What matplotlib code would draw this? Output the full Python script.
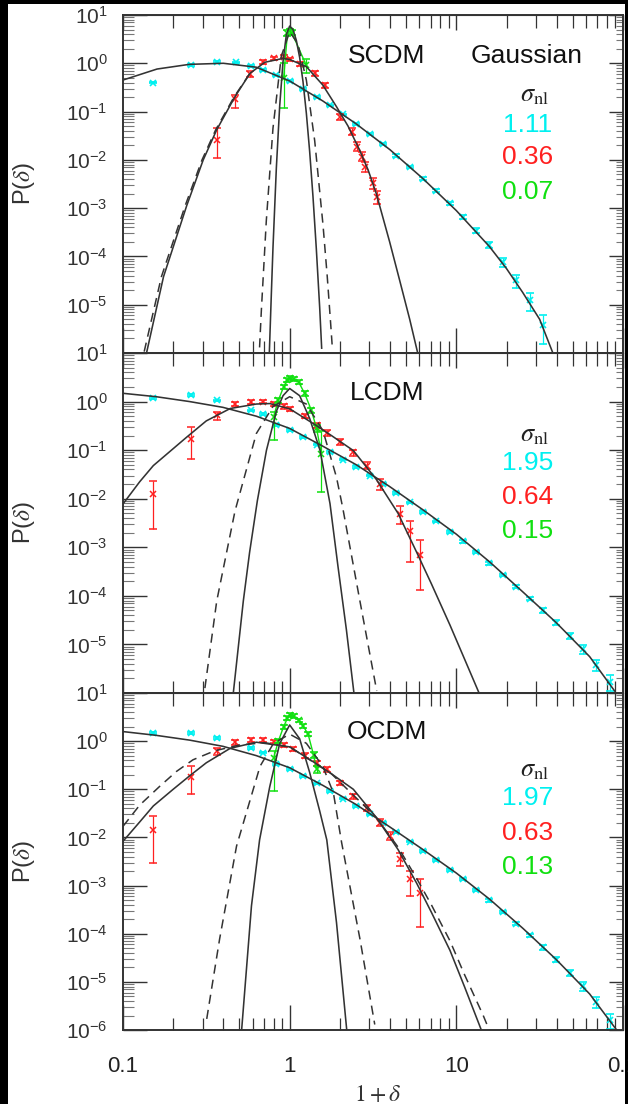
import matplotlib
matplotlib.use('Agg')
import matplotlib.pyplot as plt
from matplotlib.ticker import LogLocator, NullFormatter, FixedLocator, FixedFormatter
from matplotlib.patches import Rectangle

plt.rcParams['font.family'] = ['Liberation Sans', 'DejaVu Sans']
plt.rcParams['mathtext.fontset'] = 'stix'

CYAN = '#00f0f0'
RED = '#ff2020'
GREEN = '#10e010'
INK = '#333333'

X_TICKS = [0.1, 1, 10, 100]
X_TICKLABELS = ['0.1', '1', '10', '0.1']
Y_TICKS = [1e-6, 1e-5, 1e-4, 1e-3, 1e-2, 1e-1, 1e0, 1e1]
Y_TICKLABELS = [r'$\mathregular{10^{-6}}$', r'$\mathregular{10^{-5}}$', r'$\mathregular{10^{-4}}$',
                r'$\mathregular{10^{-3}}$', r'$\mathregular{10^{-2}}$', r'$\mathregular{10^{-1}}$',
                r'$\mathregular{10^{0}}$', r'$\mathregular{10^{1}}$']

MODELS = ['SCDM', 'LCDM', 'OCDM']
SIGMA_NL = [['1.11', '0.36', '0.07'], ['1.95', '0.64', '0.15'], ['1.97', '0.63', '0.13']]

# ---------------- SCDM ----------------
C1_CURVE_X = [0.1, 0.16, 0.25, 0.4, 0.63, 1.0, 1.58, 2.5, 4.0, 6.3, 10, 15.8, 20, 25, 31.6, 40]
C1_CURVE_Y = [0.45, 0.76, 0.95, 1.0, 0.83, 0.43, 0.166, 0.056, 0.0162, 4.1e-3, 8.9e-4, 1.6e-4, 5.6e-5,
              1.8e-5, 5.0e-6, 6.3e-7]
C1_X = [0.152, 0.256, 0.365, 0.477, 0.59, 0.69, 0.83, 1.0, 1.2, 1.45, 1.74, 2.09, 2.51, 3.02, 3.63,
        4.37, 5.25, 6.31, 7.59, 9.12, 10.96, 13.2, 15.8, 19.1, 22.9, 27.5, 33.1]
C1_Y = [0.40, 0.92, 1.08, 1.04, 0.88, 0.73, 0.56, 0.43, 0.29, 0.20, 0.134, 0.087, 0.056, 0.034, 0.021,
        0.0123, 7.1e-3, 4.1e-3, 2.3e-3, 1.25e-3, 6.6e-4, 3.4e-4, 1.75e-4, 7.6e-5, 3.2e-5, 1.25e-5, 3.8e-6]
C1_FERR = [0.04, 0.04, 0.04, 0.04, 0.04, 0.04, 0.04, 0.04, 0.04, 0.04, 0.04, 0.04, 0.04, 0.04, 0.04,
           0.05, 0.05, 0.06, 0.07, 0.08, 0.1, 0.12, 0.15, 0.2, 0.3, 0.4, 0.6]

R1_CURVE_X = [0.139, 0.175, 0.241, 0.303, 0.365, 0.47, 0.578, 0.71, 0.91, 1.0, 1.26, 1.58, 1.91, 2.24,
              2.63, 2.95, 3.31, 3.98, 4.57, 5.25, 5.96]
R1_CURVE_Y = [1.07e-6, 3.8e-5, 1.12e-3, 0.01, 0.042, 0.204, 0.62, 1.05, 1.26, 1.2, 0.85, 0.355, 0.126,
              0.05, 0.0158, 6.3e-3, 2.0e-3, 2.0e-4, 3.2e-5, 5.0e-6, 7.9e-7]
R1_DASH_X = [0.134, 0.17, 0.236, 0.298, 0.36, 0.465, 0.578]
R1_DASH_Y = [1.07e-6, 3.8e-5, 1.12e-3, 0.01, 0.042, 0.204, 0.62]
R1_X = [0.365, 0.47, 0.578, 0.695, 0.80, 0.92, 1.0, 1.15, 1.42, 1.63, 2.0, 2.35, 2.52, 2.7, 2.83, 3.18, 3.33]
R1_Y = [0.026, 0.18, 0.6, 1.08, 1.27, 1.37, 1.2, 0.97, 0.62, 0.356, 0.078, 0.038, 0.0188, 0.0116,
        7.2e-3, 3.3e-3, 1.7e-3]
R1_LO = [0.011, 0.117, 0.52, 0.98, 1.17, 1.27, 1.1, 0.88, 0.55, 0.31, 0.066, 0.032, 0.015, 0.0093,
         5.6e-3, 2.5e-3, 1.2e-3]
R1_HI = [0.045, 0.22, 0.69, 1.18, 1.37, 1.47, 1.3, 1.06, 0.7, 0.4, 0.09, 0.045, 0.023, 0.0145,
         9.0e-3, 4.3e-3, 2.3e-3]

G1_CURVE_X = [0.755, 0.776, 0.794, 0.832, 0.871, 0.912, 0.955, 1.0, 1.047, 1.096, 1.148, 1.202, 1.259,
              1.318, 1.38, 1.445, 1.514, 1.556]
G1_CURVE_Y = [1e-6, 1.6e-5, 1.5e-4, 6.8e-3, 0.129, 1.07, 3.9, 5.9, 5.0, 3.0, 1.32, 0.42, 0.093, 0.015,
              1.74e-3, 1.45e-4, 8.7e-6, 1.26e-6]
G1_DASH_X = [0.653, 0.676, 0.724, 0.794, 0.891, 1.0, 1.122, 1.259, 1.413, 1.585, 1.679, 1.758, 1.8]
G1_DASH_Y = [6.3e-7, 7.4e-6, 5.4e-4, 0.045, 1.41, 4.5, 2.5, 0.45, 0.025, 4.5e-4, 4.0e-5, 4.5e-6, 1.4e-6]
G1_X = [0.92, 0.97, 1.0, 1.03, 1.26]
G1_Y = [0.5, 4.2, 4.6, 4.3, 0.9]
G1_LO = [0.12, 3.7, 4.1, 3.8, 0.62]
G1_HI = [1.0, 4.8, 5.2, 4.9, 1.25]

# ---------------- LCDM ----------------
C2_CURVE_X = [0.1, 0.158, 0.251, 0.398, 0.631, 1.0, 1.585, 2.51, 3.98, 6.31, 10, 15.85, 25.1, 39.8, 63.1, 89.1]
C2_CURVE_Y = [1.48, 1.26, 1.0, 0.76, 0.50, 0.28, 0.12, 0.05, 0.0178, 5.9e-3, 1.86e-3, 5.0e-4, 1.2e-4,
              2.8e-5, 5.6e-6, 1.1e-6]
C2_X = [0.152, 0.256, 0.365, 0.59, 0.695, 0.83, 1.0, 1.2, 1.45, 1.74, 2.09, 2.51, 3.02, 3.63, 4.37, 5.25,
        6.31, 7.59, 9.12, 10.96, 13.2, 15.8, 19.1, 22.9, 27.5, 33.1, 39.8, 47.9, 57.5, 69.2, 83.2]
C2_Y = [1.19, 1.35, 1.06, 0.66, 0.56, 0.33, 0.26, 0.185, 0.13, 0.092, 0.064, 0.045, 0.03, 0.02, 0.013,
        8.4e-3, 5.4e-3, 3.4e-3, 2.1e-3, 1.32e-3, 8.0e-4, 4.7e-4, 2.7e-4, 1.55e-4, 8.8e-5, 5.0e-5, 2.8e-5,
        1.5e-5, 8.0e-6, 3.8e-6, 1.7e-6]
C2_FERR = [0.04, 0.04, 0.04, 0.04, 0.04, 0.04, 0.04, 0.04, 0.04, 0.04, 0.04, 0.04, 0.04, 0.04, 0.04, 0.04,
           0.04, 0.04, 0.05, 0.05, 0.05, 0.06, 0.06, 0.07, 0.08, 0.1, 0.12, 0.15, 0.2, 0.25, 0.35]

R2_CURVE_X = [0.1, 0.126, 0.152, 0.241, 0.316, 0.44, 0.631, 0.76, 1.0, 1.39, 1.78, 2.41, 3.31, 4.47, 5.78,
              7.08, 9.16, 11.2, 14.5]
R2_CURVE_Y = [7.8e-3, 0.0224, 0.048, 0.185, 0.4, 0.72, 0.89, 0.91, 0.71, 0.35, 0.2, 0.098, 0.025, 5.0e-3,
              7.9e-4, 1.78e-4, 2.5e-5, 5.0e-6, 6.3e-7]
R2_X = [0.152, 0.256, 0.365, 0.47, 0.59, 0.695, 0.8, 0.92, 1.0, 1.23, 1.45, 1.67, 2.0, 2.41, 2.9, 3.48,
        4.59, 5.27, 6.05]
R2_Y = [0.0124, 0.17, 0.52, 0.91, 0.98, 1.0, 0.91, 0.8, 0.7, 0.5, 0.33, 0.23, 0.15, 0.09, 0.048, 0.02,
        4.8e-3, 2.2e-3, 7.1e-4]
R2_LO = [2.4e-3, 0.066, 0.42, 0.82, 0.9, 0.92, 0.83, 0.72, 0.63, 0.45, 0.29, 0.2, 0.13, 0.077, 0.04,
         0.015, 3.0e-3, 4.9e-4, 1.3e-4]
R2_HI = [0.0234, 0.3, 0.62, 1.0, 1.07, 1.09, 1.0, 0.88, 0.78, 0.56, 0.37, 0.26, 0.17, 0.1, 0.056, 0.025,
         7.0e-3, 3.5e-3, 1.4e-3]

G2_CURVE_X = [0.459, 0.527, 0.575, 0.64, 0.726, 0.832, 0.912, 1.0, 1.148, 1.318, 1.52, 1.746, 1.95, 2.19, 2.43]
G2_CURVE_Y = [1e-6, 7.8e-5, 7.9e-4, 9.1e-3, 0.1, 0.63, 1.32, 1.86, 1.32, 0.45, 0.1, 7.9e-3, 4.0e-4,
              2.0e-5, 1e-6]
G2_DASH_X = [0.31, 0.365, 0.47, 0.631, 0.794, 1.0, 1.259, 1.585, 1.91, 2.08, 2.64, 3.33]
G2_DASH_Y = [1.26e-6, 7.8e-5, 5.6e-3, 0.22, 0.79, 1.26, 0.89, 0.25, 0.0275, 6.6e-3, 7.8e-5, 1.1e-6]
G2_X = [0.8, 0.855, 0.92, 0.97, 1.0, 1.06, 1.13, 1.23, 1.35, 1.45, 1.55]
G2_Y = [0.48, 1.07, 2.0, 2.76, 3.0, 2.9, 2.55, 1.47, 0.66, 0.28, 0.084]
G2_LO = [0.16, 0.95, 1.8, 2.5, 2.75, 2.65, 2.3, 1.3, 0.58, 0.24, 0.014]
G2_HI = [0.62, 1.2, 2.2, 3.0, 3.3, 3.2, 2.8, 1.65, 0.75, 0.33, 0.25]

# ---------------- OCDM ----------------
C3_CURVE_X = [0.1, 0.158, 0.251, 0.398, 0.631, 1.0, 1.585, 2.51, 3.98, 6.31, 10, 15.85, 25.1, 39.8, 63.1, 91.6]
C3_CURVE_Y = [1.58, 1.32, 1.05, 0.78, 0.5, 0.28, 0.12, 0.048, 0.0166, 5.6e-3, 1.82e-3, 5.2e-4, 1.29e-4,
              2.9e-5, 5.6e-6, 1.0e-6]
C3_X = [0.152, 0.256, 0.365, 0.59, 0.695, 0.83, 1.0, 1.2, 1.45, 1.74, 2.09, 2.51, 3.02, 3.63, 4.37, 5.25,
        6.31, 7.59, 9.12, 10.96, 13.2, 15.8, 19.1, 22.9, 27.5, 33.1, 39.8, 47.9, 57.5, 69.2, 83.2]
C3_Y = [1.47, 1.47, 1.15, 0.72, 0.58, 0.34, 0.26, 0.19, 0.132, 0.092, 0.064, 0.045, 0.03, 0.02, 0.0128,
        8.2e-3, 5.3e-3, 3.4e-3, 2.15e-3, 1.35e-3, 8.2e-4, 4.9e-4, 2.8e-4, 1.6e-4, 9.2e-5, 5.2e-5, 2.9e-5,
        1.55e-5, 8.2e-6, 3.9e-6, 1.6e-6]
C3_FERR = C2_FERR

R3_CURVE_X = [0.1, 0.126, 0.152, 0.2, 0.251, 0.316, 0.44, 0.631, 1.0, 1.39, 1.78, 2.41, 3.31, 4.47, 5.78,
              7.08, 9.16, 11.2, 14.5]
R3_CURVE_Y = [8.3e-3, 0.021, 0.045, 0.1, 0.19, 0.355, 0.71, 0.95, 0.76, 0.37, 0.21, 0.1, 0.026, 5.6e-3,
              1.12e-3, 2.8e-4, 4.5e-5, 7.9e-6, 7.9e-7]
R3_DASH_X = [0.1, 0.126, 0.166, 0.209, 0.263, 0.355, 0.5, 0.708, 1.0, 1.78, 3.31, 4.47, 5.78, 7.08, 9.16,
             11.2, 14.5, 16.2]
R3_DASH_Y = [0.017, 0.047, 0.115, 0.234, 0.41, 0.63, 0.83, 0.93, 0.76, 0.21, 0.026, 6.3e-3, 1.41e-3,
             4.0e-4, 7.1e-5, 1.41e-5, 2.0e-6, 7.9e-7]
R3_X = [0.152, 0.256, 0.365, 0.47, 0.59, 0.695, 0.8, 0.92, 1.05, 1.23, 1.45, 1.67, 2.0, 2.41, 2.9, 3.48,
        4.0, 4.59, 5.27, 6.05]
R3_Y = [0.0146, 0.18, 0.61, 0.94, 1.07, 1.07, 0.98, 0.84, 0.68, 0.5, 0.35, 0.26, 0.135, 0.071, 0.041,
        0.02, 0.0106, 3.5e-3, 1.35e-3, 7.1e-4]
R3_LO = [2.9e-3, 0.081, 0.51, 0.85, 0.98, 0.98, 0.9, 0.76, 0.61, 0.45, 0.31, 0.23, 0.12, 0.062, 0.035,
         0.017, 8.8e-3, 2.6e-3, 6.0e-4, 1.4e-4]
R3_HI = [0.0275, 0.3, 0.72, 1.04, 1.17, 1.17, 1.07, 0.93, 0.75, 0.56, 0.39, 0.29, 0.15, 0.08, 0.047,
         0.024, 0.0128, 4.8e-3, 2.0e-3, 1.35e-3]

G3_CURVE_X = [0.515, 0.59, 0.66, 0.759, 0.871, 1.0, 1.148, 1.318, 1.514, 1.67, 1.91, 2.2]
G3_CURVE_Y = [1e-6, 3.8e-4, 8.9e-3, 0.112, 0.89, 2.17, 1.12, 0.224, 0.0355, 8.9e-3, 1.7e-4, 1e-6]
G3_DASH_X = [0.318, 0.38, 0.48, 0.664, 0.8, 1.0, 1.26, 1.58, 1.83, 2.05, 2.64, 3.24]
G3_DASH_Y = [1.7e-6, 7.8e-5, 6.6e-3, 0.3, 0.9, 1.4, 0.9, 0.3, 0.084, 7.8e-3, 7.8e-5, 1.3e-6]
G3_X = [0.8, 0.855, 0.92, 0.97, 1.0, 1.06, 1.13, 1.2, 1.29, 1.39, 1.45]
G3_Y = [0.44, 1.0, 2.0, 3.0, 3.5, 3.3, 2.7, 2.1, 1.4, 0.52, 0.26]
G3_LO = [0.09, 0.9, 1.8, 2.75, 3.2, 3.0, 2.45, 1.9, 1.25, 0.45, 0.22]
G3_HI = [0.62, 1.12, 2.2, 3.3, 3.8, 3.6, 2.95, 2.3, 1.55, 0.6, 0.31]

panels = [
    dict(cx=C1_X, cy=C1_Y, cf=C1_FERR, ccx=C1_CURVE_X, ccy=C1_CURVE_Y,
         rx=R1_X, ry=R1_Y, rlo=R1_LO, rhi=R1_HI, rcx=R1_CURVE_X, rcy=R1_CURVE_Y, rdx=R1_DASH_X, rdy=R1_DASH_Y,
         gx=G1_X, gy=G1_Y, glo=G1_LO, ghi=G1_HI, gcx=G1_CURVE_X, gcy=G1_CURVE_Y, gdx=G1_DASH_X, gdy=G1_DASH_Y),
    dict(cx=C2_X, cy=C2_Y, cf=C2_FERR, ccx=C2_CURVE_X, ccy=C2_CURVE_Y,
         rx=R2_X, ry=R2_Y, rlo=R2_LO, rhi=R2_HI, rcx=R2_CURVE_X, rcy=R2_CURVE_Y, rdx=None, rdy=None,
         gx=G2_X, gy=G2_Y, glo=G2_LO, ghi=G2_HI, gcx=G2_CURVE_X, gcy=G2_CURVE_Y, gdx=G2_DASH_X, gdy=G2_DASH_Y),
    dict(cx=C3_X, cy=C3_Y, cf=C3_FERR, ccx=C3_CURVE_X, ccy=C3_CURVE_Y,
         rx=R3_X, ry=R3_Y, rlo=R3_LO, rhi=R3_HI, rcx=R3_CURVE_X, rcy=R3_CURVE_Y, rdx=R3_DASH_X, rdy=R3_DASH_Y,
         gx=G3_X, gy=G3_Y, glo=G3_LO, ghi=G3_HI, gcx=G3_CURVE_X, gcy=G3_CURVE_Y, gdx=G3_DASH_X, gdy=G3_DASH_Y),
]

# pixel layout of the three stacked panels (top, bottom) in a 628x1104 canvas
PANEL_PX = [(15, 353), (353, 693), (693, 1030)]
LABEL_Y = [[0.879, 0.763, 0.675, 0.58, 0.476],
           [0.882, 0.759, 0.676, 0.576, 0.476],
           [0.884, 0.772, 0.688, 0.585, 0.484]]

W, H = 628, 1104
fig = plt.figure(figsize=(W / 100, H / 100), dpi=100, facecolor='black')
fig.patches.append(Rectangle((8 / W, 0), (625 - 8) / W, (H - 4) / H, transform=fig.transFigure,
                             facecolor='white', edgecolor='none', zorder=-10))


def style_axes(ax, last):
    ax.set_xscale('log')
    ax.set_yscale('log')
    ax.set_xlim(0.1, 100)
    ax.set_ylim(1e-6, 10)
    ax.xaxis.set_major_locator(FixedLocator(X_TICKS))
    ax.xaxis.set_minor_locator(LogLocator(base=10, subs=range(2, 10), numticks=50))
    ax.xaxis.set_minor_formatter(NullFormatter())
    if last:
        ax.xaxis.set_major_formatter(FixedFormatter(X_TICKLABELS))
    else:
        ax.xaxis.set_major_formatter(NullFormatter())
    ax.yaxis.set_major_locator(FixedLocator(Y_TICKS))
    if last:
        ax.yaxis.set_major_formatter(FixedFormatter(Y_TICKLABELS))
    else:
        ax.yaxis.set_major_formatter(FixedFormatter([''] + Y_TICKLABELS[1:]))
    ax.yaxis.set_minor_locator(LogLocator(base=10, subs=range(2, 10), numticks=100))
    ax.yaxis.set_minor_formatter(NullFormatter())
    ax.tick_params(axis='x', which='major', direction='in', length=18, width=1.0, color=INK,
                   pad=19, labelsize=16, labelcolor='#222222')
    ax.tick_params(axis='x', which='minor', direction='in', length=9, width=0.9, color=INK)
    ax.tick_params(axis='y', which='major', direction='in', length=17, width=1.0, color=INK,
                   pad=11, labelsize=15, labelcolor='#333333')
    ax.tick_params(axis='y', which='minor', direction='in', length=8, width=0.8, color='#777777')
    for s in ax.spines.values():
        s.set_color(INK)
        s.set_linewidth(1.4)

    top = ax.secondary_xaxis('top')
    top.xaxis.set_major_locator(FixedLocator(X_TICKS))
    top.xaxis.set_minor_locator(LogLocator(base=10, subs=range(2, 10), numticks=50))
    top.xaxis.set_major_formatter(NullFormatter())
    top.xaxis.set_minor_formatter(NullFormatter())
    top.tick_params(which='major', direction='in', length=11, width=1.0, color=INK)
    top.tick_params(which='minor', direction='in', length=9, width=0.9, color=INK)
    top.spines['top'].set_color(INK)

    right = ax.secondary_yaxis('right')
    right.yaxis.set_major_locator(FixedLocator(Y_TICKS))
    right.yaxis.set_minor_locator(LogLocator(base=10, subs=range(2, 10), numticks=100))
    right.yaxis.set_major_formatter(NullFormatter())
    right.yaxis.set_minor_formatter(NullFormatter())
    right.tick_params(which='major', direction='in', length=10, width=1.0, color=INK)
    right.tick_params(which='minor', direction='in', length=5, width=0.8, color='#777777')
    right.spines['right'].set_color(INK)


for i, p in enumerate(panels):
    top_px, bot_px = PANEL_PX[i]
    ax = fig.add_axes([123 / W, (H - bot_px) / H, 500 / W, (bot_px - top_px) / H])
    ax.set_facecolor('white')
    last = i == len(panels) - 1
    style_axes(ax, last)

    # cyan data
    cerr = [[y * f for y, f in zip(p['cy'], p['cf'])], [y * f for y, f in zip(p['cy'], p['cf'])]]
    ax.errorbar(p['cx'], p['cy'], yerr=cerr, fmt='x', color=CYAN, ms=5, mew=1.2,
                elinewidth=0.9, capsize=3, zorder=2)
    # red data
    rerr = [[y - lo for y, lo in zip(p['ry'], p['rlo'])], [hi - y for y, hi in zip(p['ry'], p['rhi'])]]
    ax.errorbar(p['rx'], p['ry'], yerr=rerr, fmt='x', color=RED, ms=5, mew=1.1,
                elinewidth=0.9, capsize=3, zorder=3)
    # green data
    gerr = [[y - lo for y, lo in zip(p['gy'], p['glo'])], [hi - y for y, hi in zip(p['gy'], p['ghi'])]]
    ax.errorbar(p['gx'], p['gy'], yerr=gerr, fmt='-x', color=GREEN, ms=5, mew=1.1, lw=1.0,
                elinewidth=0.9, capsize=3, zorder=4)

    # model curves
    ax.plot(p['ccx'], p['ccy'], color=INK, lw=1.15, zorder=5)
    ax.plot(p['rcx'], p['rcy'], color=INK, lw=1.15, zorder=5)
    ax.plot(p['gcx'], p['gcy'], color=INK, lw=1.15, zorder=5)
    if p['rdx'] is not None:
        ax.plot(p['rdx'], p['rdy'], color=INK, lw=1.1, ls=(0, (6, 4)), zorder=5)
    ax.plot(p['gdx'], p['gdy'], color=INK, lw=1.1, ls=(0, (6, 4)), zorder=5)

    ly = LABEL_Y[i]
    ax.text(0.528, ly[0], MODELS[i], transform=ax.transAxes, ha='center', va='center',
            fontsize=19, color='#111111')
    if i == 0:
        ax.text(0.808, ly[0], 'Gaussian', transform=ax.transAxes, ha='center', va='center',
                fontsize=19, color='#111111')
    ax.text(0.824, ly[1], r'$\sigma_{\rm nl}$', transform=ax.transAxes, ha='center', va='center',
            fontsize=19, color='#222222')
    for txt, yy, col in zip(SIGMA_NL[i], ly[2:], [CYAN, RED, GREEN]):
        ax.text(0.81, yy, txt, transform=ax.transAxes, ha='center', va='center',
                fontsize=19, color=col)

    # y label, centred 22 px from the left edge
    fig.text(24 / W, (H - (top_px + bot_px) / 2) / H, r'P($\delta$)', rotation=90,
             ha='center', va='center', fontsize=17, color='#333333')

fig.text(378 / W, (H - 1084) / H, r'$1+\delta$', ha='center', va='top', fontsize=17, color='#333333')

fig.savefig('out.png', dpi=100, facecolor=fig.get_facecolor())
